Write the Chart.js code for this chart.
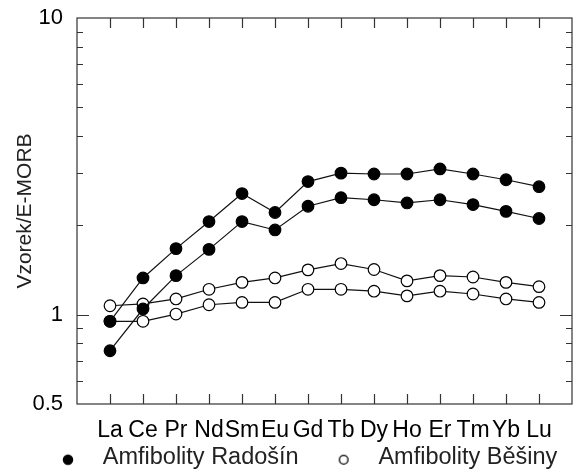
<!DOCTYPE html>
<html>
<head>
<meta charset="utf-8">
<script src="https://cdn.jsdelivr.net/npm/chart.js@4.4.1/dist/chart.umd.min.js"></script>
<style>
  body { margin: 0; background: #fff; }
  #wrap { width: 582px; height: 470px; }
</style>
</head>
<body>
<div id="wrap"><canvas id="myChart"></canvas></div>
<script>
// REE pattern, normalised to E-MORB
var elements = ['La','Ce','Pr','Nd','Sm','Eu','Gd','Tb','Dy','Ho','Er','Tm','Yb','Lu'];
var radosin1 = [0.95, 1.33, 1.67, 2.06, 2.56, 2.21, 2.81, 3.00, 2.98, 2.98, 3.10, 2.98, 2.85, 2.70];
var radosin2 = [0.756, 1.045, 1.354, 1.66, 2.06, 1.93, 2.32, 2.48, 2.44, 2.38, 2.44, 2.35, 2.23, 2.11];
var besiny1 = [1.072, 1.087, 1.13, 1.218, 1.285, 1.33, 1.416, 1.487, 1.42, 1.30, 1.354, 1.34, 1.285, 1.243];
var besiny2 = [0.95, 0.95, 1.005, 1.08, 1.10, 1.10, 1.218, 1.218, 1.20, 1.157, 1.20, 1.174, 1.13, 1.10];
var yLabels = [0.5, 1, 10];
var yMinor = [0.6, 0.7, 0.8, 0.9, 2, 3, 4, 5, 6, 7, 8, 9];

var font = "'Liberation Sans', Arial, sans-serif";

function pts(arr) {
     return arr.map(function (v, i) { return { x: i, y: v }; });
}

function series(label, arr, filled) {
     return {
          label: label,
          data: pts(arr),
          borderColor: '#111',
          borderWidth: 1.2,
          pointRadius: 5.8,
          pointHoverRadius: 5.8,
          pointBorderWidth: 1.2,
          pointBorderColor: '#000',
          pointBackgroundColor: filled ? '#000' : '#fff',
          backgroundColor: filled ? '#000' : '#fff',
          tension: 0
     };
}

// legend marker: circle sits a bit right of and below the box centre
function dot(filled) {
     var cv = document.createElement('canvas');
     cv.width = 70; cv.height = 24;
     var g = cv.getContext('2d');
     g.beginPath();
     g.arc(35 + 11, 12 + 2, filled ? 4.6 : 4.3, 0, Math.PI * 2);
     g.fillStyle = filled ? '#000' : '#fff';
     g.fill();
     g.lineWidth = 1.3;
     g.strokeStyle = '#000';
     g.stroke();
     return cv;
}
var dots = [dot(true), dot(true), dot(false), dot(false)];

// box + inward ticks, placed with the chart's own scales
var frame = {
     id: 'frame',
     beforeDatasetsDraw: function (chart) {
          var c = chart.ctx, a = chart.chartArea;
          var xs = chart.scales.x, ys = chart.scales.y;
          c.save();
          c.strokeStyle = '#333';
          c.lineWidth = 1.2;
          c.strokeRect(a.left, a.top, a.right - a.left, a.bottom - a.top);
          c.beginPath();
          for (var i = 0; i < elements.length; i++) {
               var px = Math.round(xs.getPixelForValue(i)) + 0.5;
               c.moveTo(px, a.bottom); c.lineTo(px, a.bottom - 10);
               c.moveTo(px, a.top); c.lineTo(px, a.top + 10);
          }
          yMinor.concat([1]).forEach(function (v) {
               var py = Math.round(ys.getPixelForValue(v)) + 0.5;
               var len = v === 1 ? 12 : 6;
               c.moveTo(a.left, py); c.lineTo(a.left + len, py);
               c.moveTo(a.right, py); c.lineTo(a.right - len, py);
          });
          c.stroke();
          c.restore();
     }
};

new Chart('myChart', {
     type: 'line',
     data: {
          datasets: [
               series('Amfibolity Radošín', radosin1, true),
               series('Amfibolity Radošín', radosin2, true),
               series('Amfibolity Běšiny', besiny1, false),
               series('Amfibolity Běšiny', besiny2, false)
          ]
     },
     options: {
          responsive: true,
          maintainAspectRatio: false,
          animation: false,
          events: [],
          layout: { padding: { top: 18, right: 10, left: 23, bottom: 0 } },
          scales: {
               x: {
                    type: 'linear',
                    min: -1,
                    max: 14,
                    grid: { display: false, drawTicks: false },
                    border: { display: false },
                    afterBuildTicks: function (s) {
                         s.ticks = elements.map(function (e, i) { return { value: i }; });
                    },
                    afterFit: function (s) { s.height = 42; },
                    ticks: {
                         autoSkip: false,
                         maxRotation: 0,
                         padding: 13,
                         color: '#000',
                         font: { family: font, size: 23 },
                         callback: function (v) { return elements[v] || ''; }
                    }
               },
               y: {
                    type: 'logarithmic',
                    min: 0.5,
                    max: 10,
                    grid: { display: false, drawTicks: false },
                    border: { display: false },
                    afterBuildTicks: function (s) {
                         s.ticks = yLabels.map(function (v) { return { value: v }; });
                    },
                    afterFit: function (s) {
                         s.width = 54;
                         s.paddingTop = 0;
                         s.paddingBottom = 0;
                    },
                    title: {
                         display: true,
                         text: 'Vzorek/E-MORB',
                         color: '#222',
                         font: { family: font, size: 21 },
                         padding: { top: -10, bottom: 0 }
                    },
                    ticks: {
                         padding: 14,
                         color: '#000',
                         font: { family: font, size: 22 },
                         callback: function (v) { return String(v); }
                    }
               }
          },
          plugins: {
               tooltip: { enabled: false },
               legend: {
                    position: 'bottom',
                    align: 'start',
                    maxHeight: 24,
                    labels: {
                         usePointStyle: true,
                         boxHeight: 6,
                         boxWidth: 68,
                         pointStyleWidth: 68,
                         padding: 0,
                         color: '#222',
                         font: { family: font, size: 23.5 },
                         generateLabels: function (chart) {
                              var items = Chart.defaults.plugins.legend.labels.generateLabels(chart);
                              return items.filter(function (it) {
                                   return it.datasetIndex === 0 || it.datasetIndex === 2;
                              }).map(function (it) {
                                   it.pointStyle = dots[it.datasetIndex];
                                   return it;
                              });
                         }
                    }
               }
          }
     },
     plugins: [frame]
});
</script>
</body>
</html>
